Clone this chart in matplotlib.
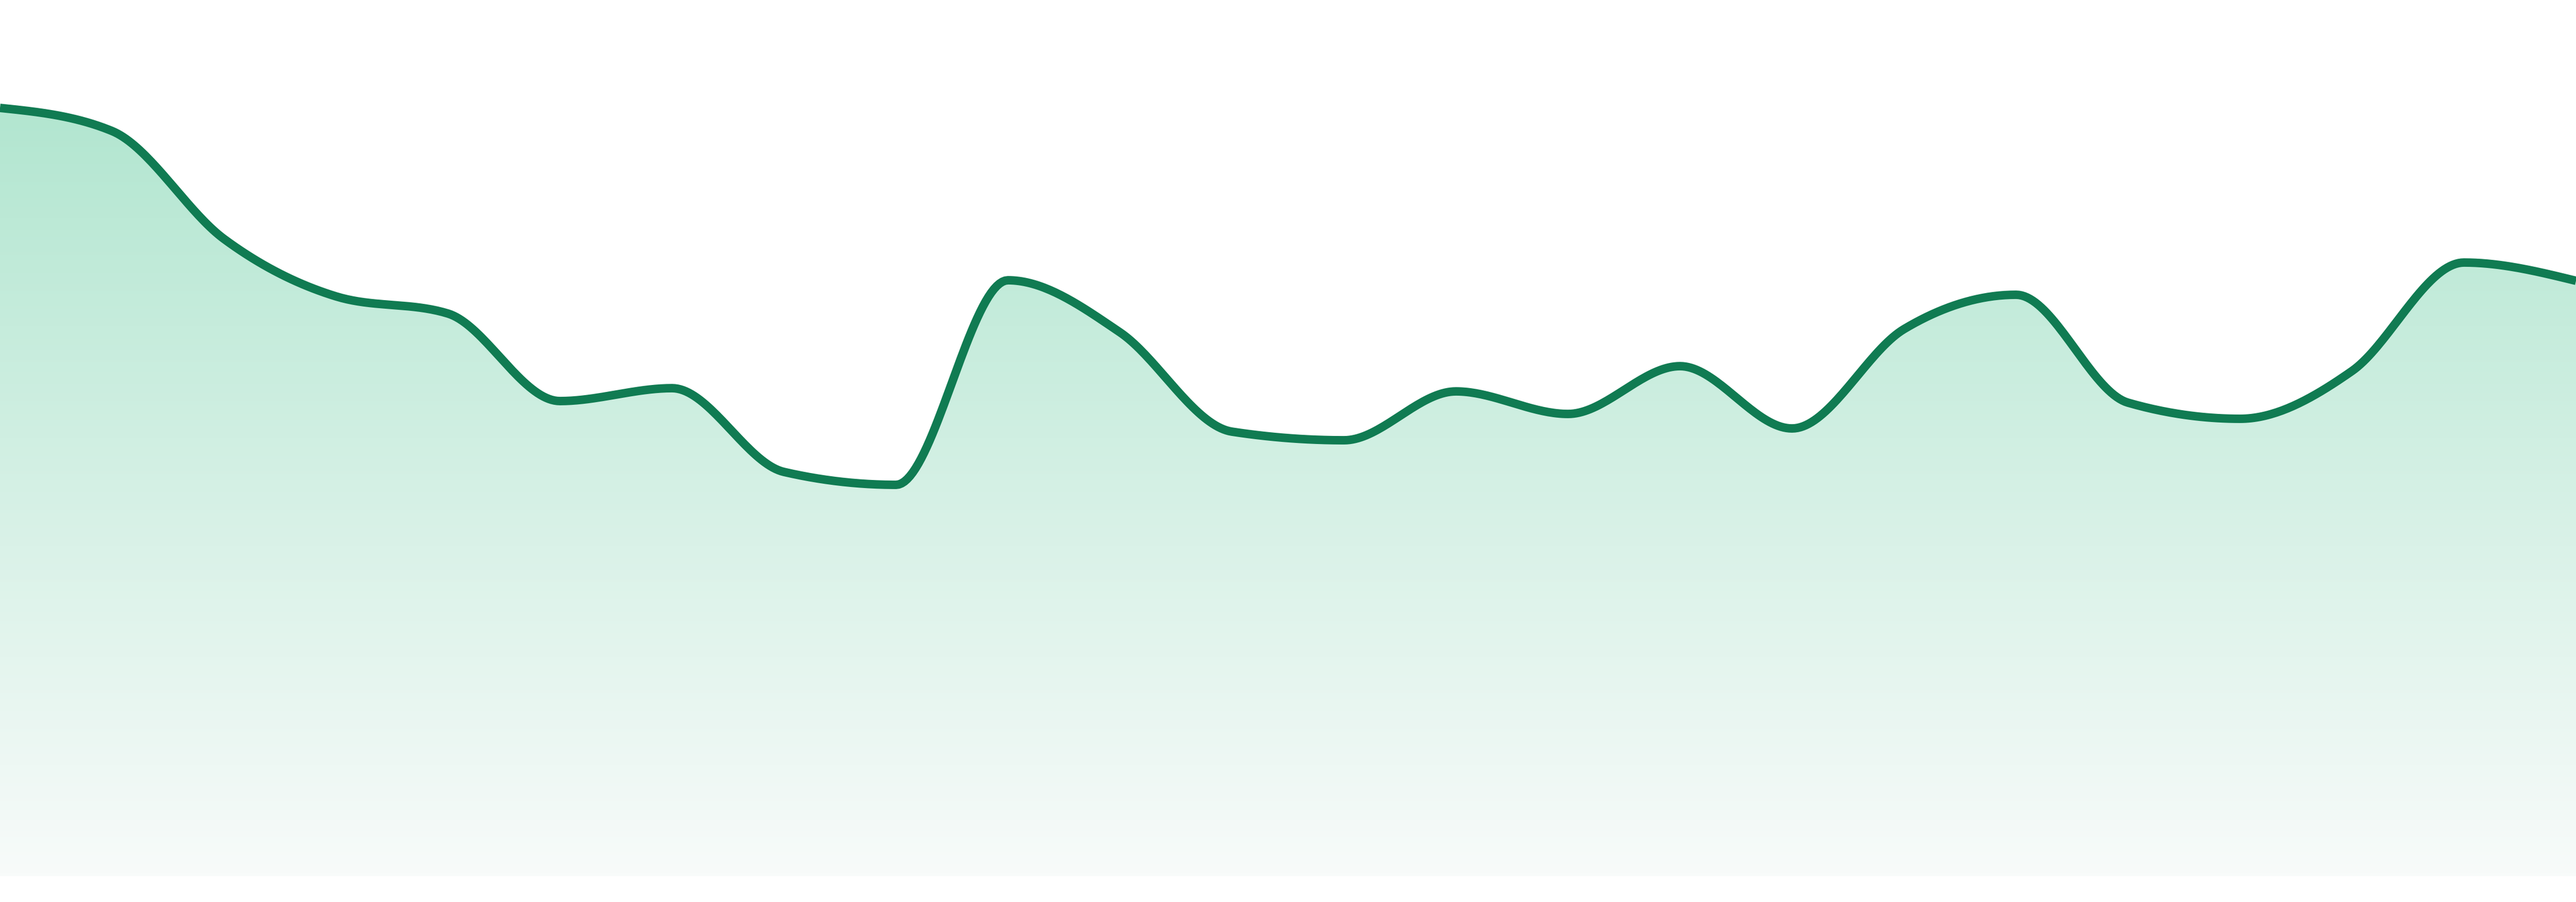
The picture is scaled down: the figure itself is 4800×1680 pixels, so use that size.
import numpy as np
import matplotlib
matplotlib.use("Agg")
import matplotlib.pyplot as plt
from matplotlib.colors import LinearSegmentedColormap

# values, one per evenly spaced step
steps = list(range(24))
values = [143.1, 138.8, 118.7, 108.0, 104.8, 88.5, 90.9, 75.3, 72.9, 111.0,
          101.3, 82.8, 81.2, 90.3, 86.1, 95.0, 83.4, 101.9, 108.3, 88.2,
          85.2, 94.1, 114.3, 110.9]

line_color = "#107b52"
fill_top = "#b2e6d0"
fill_bottom = "#f8fbfa"


def monotone_x(x, y, n=40):
    # same idea as d3.curveMonotoneX: cubic hermite with limited slopes
    x = np.asarray(x, float)
    y = np.asarray(y, float)
    h = np.diff(x)
    s = np.diff(y) / h
    t = np.zeros_like(y)
    for i in range(1, len(y) - 1):
        p = (s[i - 1] * h[i] + s[i] * h[i - 1]) / (h[i - 1] + h[i])
        t[i] = (np.sign(s[i - 1]) + np.sign(s[i])) * min(abs(s[i - 1]), abs(s[i]), 0.5 * abs(p))
    t[0] = (3 * s[0] - t[1]) / 2
    t[-1] = (3 * s[-1] - t[-2]) / 2
    xs, ys = [], []
    for i in range(len(h)):
        u = np.linspace(0, 1, n, endpoint=(i == len(h) - 1))
        h00 = 2 * u**3 - 3 * u**2 + 1
        h10 = u**3 - 2 * u**2 + u
        h01 = -2 * u**3 + 3 * u**2
        h11 = u**3 - u**2
        xs.append(x[i] + u * h[i])
        ys.append(h00 * y[i] + h10 * h[i] * t[i] + h01 * y[i + 1] + h11 * h[i] * t[i + 1])
    return np.concatenate(xs), np.concatenate(ys)


fig = plt.figure(figsize=(16, 5.6), dpi=300)
ax = fig.add_axes([0, 48 / 1680, 1, 1632 / 1680])
ax.set_xlim(steps[0], steps[-1])
ax.set_ylim(0, 163.2)
ax.axis("off")

xs, ys = monotone_x(steps, values)

# vertical gradient under the line
cmap = LinearSegmentedColormap.from_list("g", [fill_bottom, fill_top])
top = max(values)
grad = np.linspace(0, 1, 256).reshape(-1, 1)
img = ax.imshow(grad, cmap=cmap, aspect="auto", origin="lower",
                extent=[steps[0], steps[-1], 0, top], zorder=1)
clip = plt.Polygon(np.column_stack([np.r_[xs, xs[-1], xs[0]], np.r_[ys, 0, 0]]),
                   closed=True, transform=ax.transData, facecolor="none", edgecolor="none")
ax.add_patch(clip)
img.set_clip_path(clip)

ax.plot(xs, ys, color=line_color, lw=3.8, solid_capstyle="butt", zorder=3)

fig.savefig("out.png", dpi=300, facecolor="white")
